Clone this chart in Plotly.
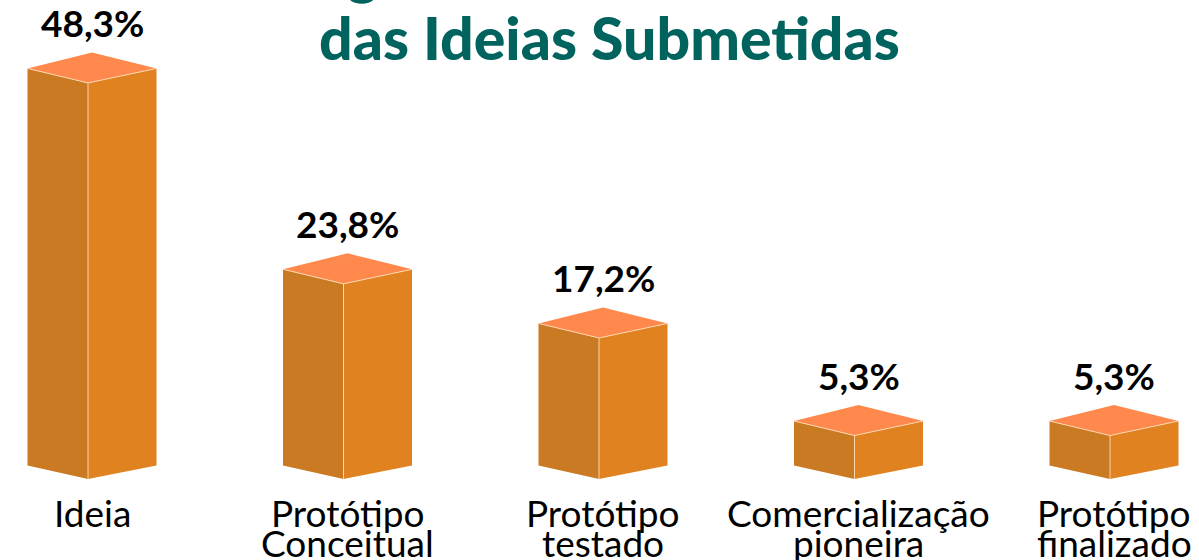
import plotly.graph_objects as go

# ---------------- data ----------------
category_lines = [
    ["Ideia"],
    ["Protótipo", "Conceitual"],
    ["Protótipo", "testado"],
    ["Comercialização", "pioneira"],
    ["Protótipo", "finalizado"],
]
values = [48.3, 23.8, 17.2, 5.3, 5.3]
value_labels = ["48,3%", "23,8%", "17,2%", "5,3%", "5,3%"]
title_lines = ["Estágio de Desenvolvimento", "das Ideias Submetidas"]

# ---------------- layout / style constants ----------------
W, H = 1199, 560
STEP_PX = 255.5      # px between bar fronts
X0_PX = 88           # px of first bar front edge
K = 8.2              # px per percent
BASE_PX = 479        # px (from top) of bar base front corner

C_TOP = "#FF894C"
C_LEFT = "#C97A22"
C_RIGHT = "#E18220"
C_EDGE = "rgba(255,225,190,0.85)"
C_TITLE = "#00635D"

def dx(p):
    return p / STEP_PX

def dy(p):
    return p / K

LEFT_W, RIGHT_W, BACK_DX = 60.5, 68.5, 4
SIDE_TOP, SIDE_BOT, BACK_UP = 14.5, 13.5, 16.0

fig = go.Figure()
annotations = []

for i, v in enumerate(values):
    c = i
    xl = c - dx(LEFT_W)
    xr = c + dx(RIGHT_W)
    xb = c + dx(BACK_DX)
    yb = dy(SIDE_BOT)
    yt = v + dy(SIDE_TOP)
    yback = yt + dy(BACK_UP)
    # left face
    fig.add_trace(go.Scatter(x=[xl, c, c, xl, xl], y=[yb, 0, v, yt, yb], fill="toself",
                             fillcolor=C_LEFT, mode="lines", line=dict(width=0),
                             hoverinfo="skip", showlegend=False))
    # right face
    fig.add_trace(go.Scatter(x=[c, xr, xr, c, c], y=[0, yb, yt, v, 0], fill="toself",
                             fillcolor=C_RIGHT, mode="lines", line=dict(width=0),
                             hoverinfo="skip", showlegend=False))
    # top face
    fig.add_trace(go.Scatter(x=[xl, c, xr, xb, xl], y=[yt, v, yt, yback, yt], fill="toself",
                             fillcolor=C_TOP, mode="lines", line=dict(width=0),
                             hoverinfo="skip", showlegend=False))
    # highlight edges
    fig.add_trace(go.Scatter(x=[xl, c, xr, None, c, c], y=[yt, v, yt, None, v, 0],
                             mode="lines", line=dict(width=1, color=C_EDGE),
                             hoverinfo="skip", showlegend=False))
    # value label
    annotations.append(dict(x=xb, y=yback, xref="x", yref="y", text=value_labels[i],
                            showarrow=False, yanchor="bottom", yshift=5,
                            font=dict(family="Lato", size=37, color="#000000", weight=700)))
    # category label lines
    for j, line in enumerate(category_lines[i]):
        base = 526 + 30 * j
        annotations.append(dict(x=xb, y=1 - (base - 13.5) / H, xref="x", yref="paper",
                                text=line, showarrow=False, yanchor="middle",
                                font=dict(family="Lato", size=37, color="#000000")))

# title lines
for j, line in enumerate(title_lines):
    base = -8 + 67 * j
    annotations.append(dict(x=609.5 / W, y=1 - (base - 21.5) / H, xref="paper", yref="paper",
                            text=line, showarrow=False, yanchor="middle",
                            font=dict(family="Lato", size=59, color=C_TITLE, weight=900)))

fig.update_layout(
    width=W, height=H,
    margin=dict(l=0, r=0, t=0, b=0),
    paper_bgcolor="white", plot_bgcolor="white",
    xaxis=dict(range=[-X0_PX / STEP_PX, (W - X0_PX) / STEP_PX], visible=False, fixedrange=True),
    yaxis=dict(range=[-(H - BASE_PX) / K, BASE_PX / K], visible=False, fixedrange=True),
    annotations=annotations,
)

fig.write_html("out.html", config={"displayModeBar": False},
               post_script="document.body.style.margin='0';document.body.style.overflow='hidden';")
